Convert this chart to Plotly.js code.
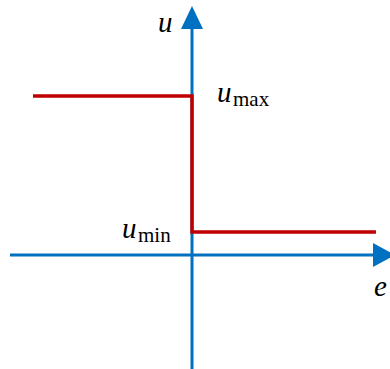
<!DOCTYPE html>
<html>
<head>
<meta charset="utf-8">
<script src="https://cdn.plot.ly/plotly-3.0.1.min.js"></script>
<style>html,body{margin:0;padding:0;background:#fff;}#chart{width:390px;height:369px;}</style>
</head>
<body>
<div id="chart"></div>
<script>
// Relay characteristic: control output u versus error e
const eValues = [-1.0, 0.0, 1.157];
const uValues = [1.0, 0.145, 0.145];
const varSymbol = '<i>u</i>';
const maxSub = 'max';
const minSub = 'min';
const xAxisLabel = '<i>e</i>';
const yAxisLabel = '<i>u</i>';

const W = 390, H = 369, OX = 192, OY = 255, S = 159;
const px = p => (p - OX) / S;
const py = p => (OY - p) / S;

const blue = '#0070C0', red = '#C00000';
const serif = 'Times New Roman, Liberation Serif, DejaVu Serif, serif';

const trace = {
  x: eValues, y: uValues, type: 'scatter', mode: 'lines',
  line: {color: red, width: 3.5, shape: 'hv'}, hoverinfo: 'skip', cliponaxis: false
};

const shapes = [
  {type: 'line', xref: 'x', yref: 'y', x0: px(10), x1: px(375), y0: 0, y1: 0, line: {color: blue, width: 3}, layer: 'below'},
  {type: 'line', xref: 'x', yref: 'y', x0: 0, x1: 0, y0: py(372), y1: py(27), line: {color: blue, width: 3}, layer: 'below'},
  {type: 'path', xref: 'x', yref: 'y',
   path: `M ${px(373)},${py(243)} L ${px(395)},${py(255)} L ${px(373)},${py(267)} Z`,
   fillcolor: blue, line: {width: 0}},
  {type: 'path', xref: 'x', yref: 'y',
   path: `M ${px(181)},${py(29)} L ${px(192)},${py(6)} L ${px(203)},${py(29)} Z`,
   fillcolor: blue, line: {width: 0}}
];

const ann = (text, x, y, size, xanchor) => ({
  text, x: px(x), y: py(y), xref: 'x', yref: 'y', showarrow: false,
  font: {family: serif, size: size, color: '#000'}, xanchor: xanchor || 'center', yanchor: 'middle'
});

const layout = {
  width: W, height: H,
  margin: {l: 0, r: 0, t: 0, b: 0},
  paper_bgcolor: '#fff', plot_bgcolor: '#fff',
  showlegend: false,
  font: {family: serif},
  xaxis: {range: [px(0), px(W)], visible: false, fixedrange: true},
  yaxis: {range: [py(H), py(0)], visible: false, fixedrange: true},
  shapes: shapes,
  annotations: [
    ann(yAxisLabel, 165, 22, 29),
    ann(xAxisLabel, 380, 286, 29),
    ann(varSymbol, 234, 92, 29, 'right'),
    ann(maxSub, 231, 99, 21, 'left'),
    ann(varSymbol, 139, 228, 29, 'right'),
    ann(minSub, 136, 235, 21, 'left')
  ]
};

Plotly.newPlot('chart', [trace], layout, {staticPlot: true, displayModeBar: false});
</script>
</body>
</html>
